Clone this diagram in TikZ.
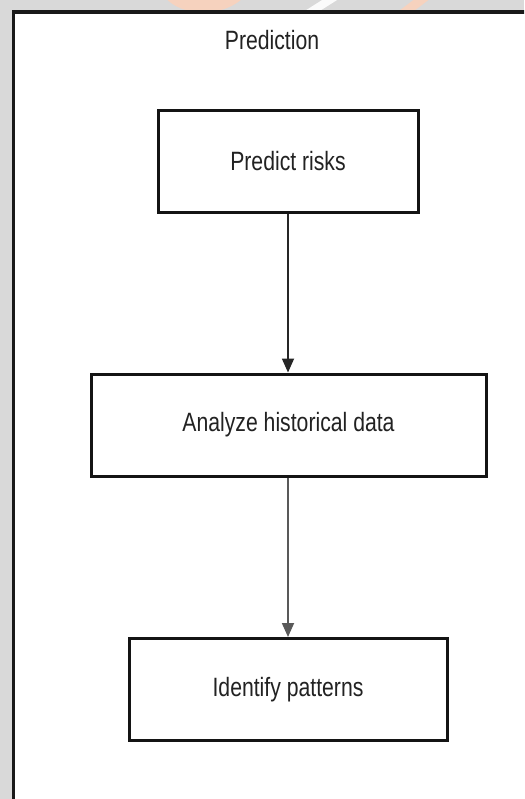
\documentclass[tikz,border=0pt]{standalone}
\usepackage{fontspec}
\setmainfont{Liberation Sans}[FakeStretch=0.8]
\usetikzlibrary{arrows.meta}
\definecolor{bggray}{HTML}{D9D9D9}
\definecolor{wmorange}{HTML}{F6D2BE}
\definecolor{txt}{HTML}{222222}
\tikzset{
  stepbox/.style={draw=black!92, line width=3pt, fill=white, inner sep=0pt,
    minimum height=102pt, font=\fontsize{26.5}{30}\selectfont, text=txt},
  flow/.style={line width=1.8pt, -{Triangle[length=14pt,width=12pt]}},
  titletext/.style={inner sep=0pt, font=\fontsize{26.5}{30}\selectfont, text=txt}
}
\begin{document}
\begin{tikzpicture}[x=1pt,y=-1pt]
\useasboundingbox (0,0) rectangle (524,799);
\clip (0,0) rectangle (524,799);
% background and faint watermark
\fill[bggray] (0,0) rectangle (524,799);
\begin{scope}
  \clip (0,0) rectangle (524,12);
  \fill[wmorange] (160,-10) .. controls (175,20) and (230,20) .. (250,-10) -- cycle;
  \fill[white!90!bggray] (300,14) -- (330,-5) -- (345,-5) -- (315,14) -- cycle;
  \fill[wmorange] (395,14) -- (420,-5) -- (435,-5) -- (410,14) -- cycle;
\end{scope}
% white frame area
\fill[white] (13.5,12) rectangle (560,860);
\draw[line width=3.5pt, black!90] (13.5,860) -- (13.5,12) -- (560,12);
% title
\node[titletext] (title) at (272,40) {Prediction};
% steps
\node[stepbox, minimum width=260pt] (risks) at (288,161.5) {Predict risks};
\node[stepbox, minimum width=395pt] (hist) at (288.5,425) {Analyze historical data};
\node[stepbox, minimum width=318pt] (pat) at (288,689.5) {Identify patterns};
% connectors
\draw[flow, draw=black!85, fill=black] (risks.south -| 288,0) -- (hist.north -| 288,0);
\draw[flow, draw=black!65, fill=black] (hist.south -| 288,0) -- (pat.north -| 288,0);
\end{tikzpicture}
\end{document}
